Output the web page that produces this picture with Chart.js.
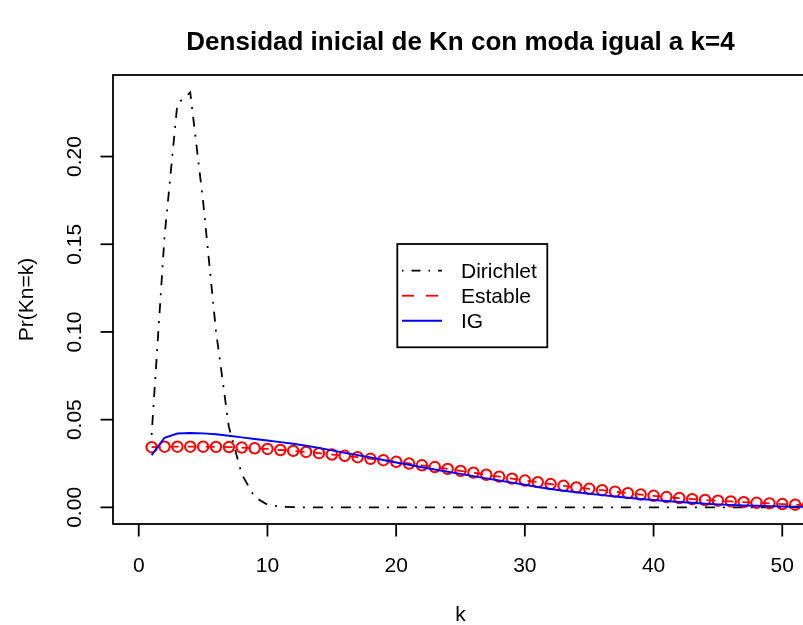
<!DOCTYPE html>
<html>
<head>
<meta charset="utf-8">
<script src="https://cdn.jsdelivr.net/npm/chart.js@4/dist/chart.umd.min.js"></script>
<style>
  html, body { margin: 0; padding: 0; background: #fff; }
  #wrap { width: 803px; height: 625px; overflow: hidden; position: relative; background: #fff; }
  #c { display: block; }
</style>
</head>
<body>
<div id="wrap"><canvas id="c" width="820" height="625"></canvas></div>
<script>
// ---------------- data ----------------
const titleText = 'Densidad inicial de Kn con moda igual a k=4';
const xTitle = 'k';
const yTitle = 'Pr(Kn=k)';
const seriesNames = ['Dirichlet', 'Estable', 'IG'];

const kValues = [1,2,3,4,5,6,7,8,9,10,11,12,13,14,15,16,17,18,19,20,21,22,23,24,25,26,
  27,28,29,30,31,32,33,34,35,36,37,38,39,40,41,42,43,44,45,46,47,48,49,50,51,52];

const dirichlet = [0.0413,0.154,0.230,0.2366,0.1744,0.1006,0.046,0.019,0.0059,0.0015,0.0004,0.0001,
  0,0,0,0,0,0,0,0,0,0,0,0,0,0,0,0,0,0,0,0,0,0,0,0,0,0,0,0,0,0,0,0,0,0,0,0,0,0,0,0];

const estable = [0.0343,0.0346,0.0346,0.0346,0.0346,0.0345,0.0344,0.0341,0.0337,0.0333,
  0.0327,0.0322,0.0316,0.0309,0.0301,0.0294,0.0286,0.0277,0.0269,0.0260,
  0.0250,0.0240,0.0230,0.0219,0.0208,0.0198,0.0186,0.0175,0.0164,0.0153,
  0.0144,0.0133,0.0123,0.0114,0.0106,0.0098,0.0090,0.0081,0.0073,0.0066,
  0.0059,0.0053,0.0047,0.0042,0.0038,0.0034,0.0030,0.0026,0.0023,0.0019,
  0.0015,0.0012];

const ig = [0.0298,0.0397,0.0421,0.0424,0.0422,0.0417,0.0408,0.0399,0.0390,0.0381,
  0.0372,0.0363,0.0351,0.0339,0.0325,0.0311,0.0298,0.0284,0.0270,0.0256,
  0.0243,0.0229,0.0216,0.0203,0.0191,0.0178,0.0165,0.0153,0.0141,0.0129,
  0.0116,0.0105,0.0095,0.0086,0.0078,0.0070,0.0062,0.0055,0.0048,0.0042,
  0.0036,0.0031,0.0026,0.0021,0.0017,0.0014,0.0011,0.0009,0.0007,0.0005,
  0.0004,0.0003];

const xTicks = [0,10,20,30,40,50];
const xTickLabels = ['0','10','20','30','40','50'];
const yTicks = [0,0.05,0.10,0.15,0.20];
const yTickLabels = ['0.00','0.05','0.10','0.15','0.20'];
const xRange = [-2, 52];
const yRange = [-0.00948, 0.24648];

// ---------------- chart ----------------
const toPts = (ys) => kValues.map((k, i) => ({x: k, y: ys[i]}));
const FONT = '"Liberation Sans", Arial, Helvetica, sans-serif';

const rPlugin = {
  id: 'rbase',
  afterDraw(chart) {
    const ctx = chart.ctx, a = chart.chartArea;
    const xs = chart.scales.x, ys = chart.scales.y;
    ctx.save();
    ctx.strokeStyle = '#000';
    ctx.fillStyle = '#000';
    ctx.lineWidth = 1.8;
    ctx.setLineDash([]);
    // box
    ctx.strokeRect(a.left, a.top, a.right - a.left, a.bottom - a.top);
    // x axis
    ctx.font = '21px ' + FONT;
    ctx.textAlign = 'center';
    ctx.textBaseline = 'alphabetic';
    xTicks.forEach((v, i) => {
      const px = xs.getPixelForValue(v);
      ctx.beginPath();
      ctx.moveTo(px, a.bottom);
      ctx.lineTo(px, a.bottom + 12.5);
      ctx.stroke();
      ctx.fillText(xTickLabels[i], px, 572);
    });
    // y axis
    yTicks.forEach((v, i) => {
      const py = ys.getPixelForValue(v);
      ctx.beginPath();
      ctx.moveTo(a.left, py);
      ctx.lineTo(a.left - 12.5, py);
      ctx.stroke();
      ctx.save();
      ctx.translate(81, py);
      ctx.rotate(-Math.PI / 2);
      ctx.fillText(yTickLabels[i], 0, 0);
      ctx.restore();
    });
    // axis titles
    const cx = (a.left + a.right) / 2;
    ctx.fillText(xTitle, cx, 621);
    ctx.save();
    ctx.translate(33, (a.top + a.bottom) / 2);
    ctx.rotate(-Math.PI / 2);
    ctx.fillText(yTitle, 0, 0);
    ctx.restore();
    // main title
    ctx.font = 'bold 26px ' + FONT;
    ctx.fillText(titleText, cx, 50);

    // legend
    const lx0 = 397.3, ly0 = 244, lx1 = 547.3, ly1 = 347.3;
    ctx.fillStyle = '#fff';
    ctx.fillRect(lx0, ly0, lx1 - lx0, ly1 - ly0);
    ctx.strokeStyle = '#000';
    ctx.lineWidth = 1.8;
    ctx.strokeRect(lx0, ly0, lx1 - lx0, ly1 - ly0);
    ctx.font = '21px ' + FONT;
    ctx.textAlign = 'left';
    chart.data.datasets.forEach((ds, i) => {
      const yRow = 270.7 + i * 25;
      ctx.save();
      ctx.strokeStyle = ds.borderColor;
      ctx.lineWidth = ds.borderWidth;
      ctx.setLineDash(ds.legendDash || []);
      ctx.beginPath();
      ctx.moveTo(402, yRow);
      ctx.lineTo(442, yRow);
      ctx.stroke();
      ctx.restore();
      ctx.fillStyle = '#000';
      ctx.fillText(ds.label, 461, yRow + 7.5);
    });
    ctx.restore();
  }
};

new Chart(document.getElementById('c'), {
  type: 'line',
  data: {
    datasets: [
      {
        label: seriesNames[0], data: toPts(dirichlet),
        borderColor: '#000000', borderWidth: 1.8,
        borderDash: [2, 8, 10, 8], legendDash: [1.5, 8, 9, 8],
        pointRadius: 0, tension: 0, order: 3, fill: false
      },
      {
        label: seriesNames[1], data: toPts(estable),
        borderColor: '#FF0000', borderWidth: 1.8,
        borderDash: [9, 9], legendDash: [12, 12],
        pointRadius: 5.2, pointStyle: 'circle',
        pointBackgroundColor: 'rgba(0,0,0,0)', pointBorderColor: '#FF0000',
        pointBorderWidth: 2, tension: 0, order: 2, fill: false
      },
      {
        label: seriesNames[2], data: toPts(ig),
        borderColor: '#0000FF', borderWidth: 1.9,
        pointRadius: 0, tension: 0, order: 1, fill: false
      }
    ]
  },
  options: {
    responsive: false,
    animation: false,
    devicePixelRatio: 1,
    layout: { padding: { left: 113, top: 75, right: 12, bottom: 101 } },
    plugins: { legend: { display: false }, title: { display: false }, tooltip: { enabled: false } },
    scales: {
      x: { type: 'linear', min: xRange[0], max: xRange[1], display: false },
      y: { type: 'linear', min: yRange[0], max: yRange[1], display: false }
    }
  },
  plugins: [rPlugin]
});
</script>
</body>
</html>
